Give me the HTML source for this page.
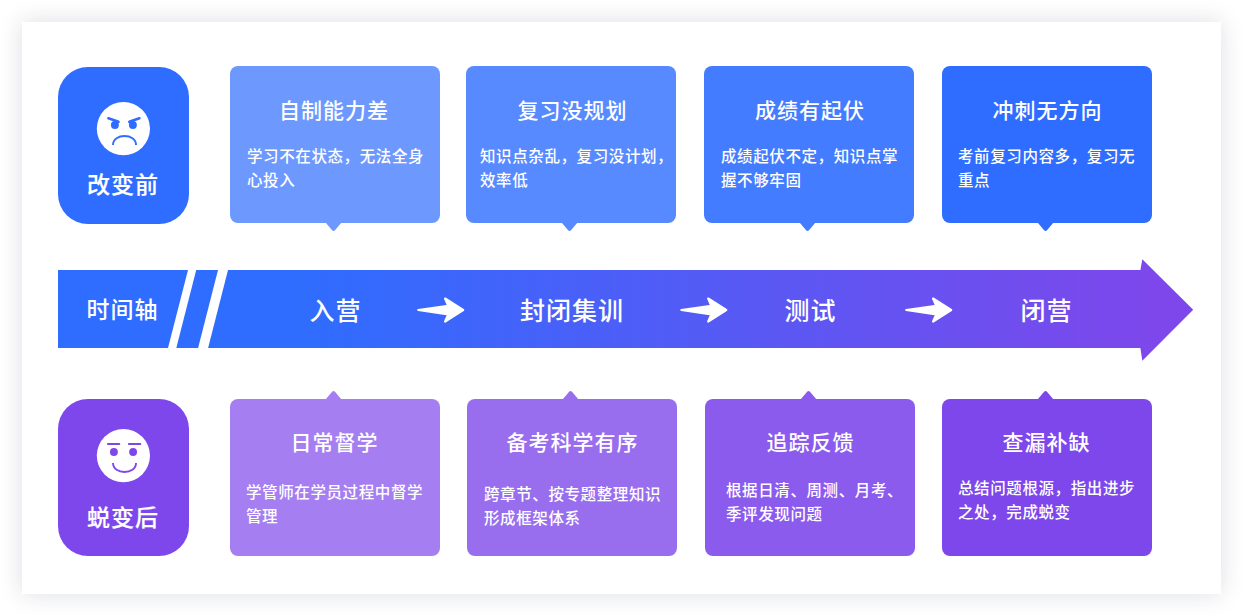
<!DOCTYPE html>
<html lang="zh-CN">
<head>
<meta charset="utf-8">
<title>改变前 / 蜕变后</title>
<style>
*{margin:0;padding:0;box-sizing:border-box}
html,body{width:1243px;height:616px;background:#fff;overflow:hidden}
body{position:relative;font-family:"Liberation Sans","Noto Sans CJK SC",sans-serif;color:#fff;-webkit-font-smoothing:antialiased}
.panel{position:absolute;left:22px;top:22px;width:1199px;height:572px;background:#fff;box-shadow:0 0 23px rgba(25,35,70,.15)}
svg.art{position:absolute;left:0;top:0;width:1243px;height:616px}
.side{position:absolute;left:58px;width:131px;height:157px;border-radius:30px}
.side .lbl{position:absolute;left:-1px;right:1px;-webkit-text-stroke:.2px #fff;text-align:center;font-size:23px;letter-spacing:1px;text-indent:1px;line-height:32px;font-weight:500;white-space:nowrap}
.card{position:absolute;width:210px;height:157px;border-radius:8px}
.card h3{position:absolute;left:0;right:0;text-align:center;font-size:21px;letter-spacing:1px;text-indent:1px;line-height:30px;font-weight:500;white-space:nowrap}
.card p{position:absolute;font-size:15.5px;letter-spacing:.6px;line-height:24px;white-space:nowrap;font-weight:500}
.tl{position:absolute;top:295px;height:32px;line-height:32px;font-size:25px;letter-spacing:1px;text-indent:1px;white-space:nowrap;text-align:center;width:200px;margin-left:-100px;font-weight:500}
</style>
</head>
<body>
<div class="panel"></div>

<div class="side" style="top:67px;background:#2e6dff"><div class="lbl" style="top:102px">改变前</div></div>
<div class="side" style="top:399px;background:#7e47eb"><div class="lbl" style="top:103px">蜕变后</div></div>

<div class="card" style="left:230px;top:66px;background:#6d99ff"><h3 style="top:30px;left:-3px">自制能力差</h3><p style="left:17px;top:79px">学习不在状态，无法全身<br>心投入</p></div>
<div class="card" style="left:466px;top:66px;background:#588aff"><h3 style="top:30px;left:2px">复习没规划</h3><p style="left:14px;top:79px">知识点杂乱，复习没计划，<br>效率低</p></div>
<div class="card" style="left:704px;top:66px;background:#437cff"><h3 style="top:30px;left:1px">成绩有起伏</h3><p style="left:17px;top:79px">成绩起伏不定，知识点掌<br>握不够牢固</p></div>
<div class="card" style="left:942px;top:66px;background:#2e6dff"><h3 style="top:30px">冲刺无方向</h3><p style="left:16px;top:79px">考前复习内容多，复习无<br>重点</p></div>

<div class="card" style="left:230px;top:399px;background:#a57ff1"><h3 style="top:29px;left:-2px">日常督学</h3><p style="left:16px;top:82px">学管师在学员过程中督学<br>管理</p></div>
<div class="card" style="left:467px;top:399px;background:#986eef"><h3 style="top:29px">备考科学有序</h3><p style="left:17px;top:84px">跨章节、按专题整理知识<br>形成框架体系</p></div>
<div class="card" style="left:705px;top:399px;background:#8b5bed"><h3 style="top:29px">追踪反馈</h3><p style="left:21px;top:80px">根据日清、周测、月考、<br>季评发现问题</p></div>
<div class="card" style="left:942px;top:399px;background:#7e47eb"><h3 style="top:29px;left:-2px">查漏补缺</h3><p style="left:16px;top:78px">总结问题根源，指出进步<br>之处，完成蜕变</p></div>

<svg class="art" viewBox="0 0 1243 616">
  <defs>
    <linearGradient id="g" gradientUnits="userSpaceOnUse" x1="290" y1="0" x2="1160" y2="0">
      <stop offset="0" stop-color="#2e6dff"/>
      <stop offset="1" stop-color="#7e47eb"/>
    </linearGradient>
  </defs>
  <!-- pointers -->
  <path fill="#6d99ff" d="M325.55 222.5 L341.55 222.5 L335.00 230.25 Q333.55 231.9 332.10 230.25 Z"/>
  <path fill="#588aff" d="M561.55 222.5 L577.55 222.5 L571.00 230.25 Q569.55 231.9 568.10 230.25 Z"/>
  <path fill="#437cff" d="M799.55 222.5 L815.55 222.5 L809.00 230.25 Q807.55 231.9 806.10 230.25 Z"/>
  <path fill="#2e6dff" d="M1037.55 222.5 L1053.55 222.5 L1047.00 230.25 Q1045.55 231.9 1044.10 230.25 Z"/>
  <path fill="#a57ff1" d="M325.55 399.5 L341.55 399.5 L335.00 391.75 Q333.55 390.1 332.10 391.75 Z"/>
  <path fill="#986eef" d="M562.55 399.5 L578.55 399.5 L572.00 391.75 Q570.55 390.1 569.10 391.75 Z"/>
  <path fill="#8b5bed" d="M800.55 399.5 L816.55 399.5 L810.00 391.75 Q808.55 390.1 807.10 391.75 Z"/>
  <path fill="#7e47eb" d="M1037.55 399.5 L1053.55 399.5 L1047.00 391.75 Q1045.55 390.1 1044.10 391.75 Z"/>
  <!-- timeline band -->
  <path d="M58 270 L1140.4 270 L1142.3 259.2 L1193.2 309.8 L1142.3 360.7 L1140.4 348 L58 348 Z" fill="url(#g)"/>
  <path d="M188 270 L196.2 270 L176.3 348 L168 348 Z" fill="#fff"/>
  <path d="M218 270 L228 270 L208.1 348 L198.1 348 Z" fill="#fff"/>
  <path transform="translate(417.2 310)" d="M1.0 0 L31.0 -4.2 L27.9 -11.5 L46.0 0 L27.9 11.5 L31.0 4.5 Z" fill="#fff" stroke="#fff" stroke-width="2.2" stroke-linejoin="round"/>
  <path transform="translate(680.3 310)" d="M1.0 0 L31.0 -4.2 L27.9 -11.5 L46.0 0 L27.9 11.5 L31.0 4.5 Z" fill="#fff" stroke="#fff" stroke-width="2.2" stroke-linejoin="round"/>
  <path transform="translate(905.2 310)" d="M1.0 0 L31.0 -4.2 L27.9 -11.5 L46.0 0 L27.9 11.5 L31.0 4.5 Z" fill="#fff" stroke="#fff" stroke-width="2.2" stroke-linejoin="round"/>
  <!-- angry face -->
  <g>
    <circle cx="123.4" cy="128.6" r="26.6" fill="#fff"/>
    <g fill="#2e6dff" stroke="none">
      <circle cx="114.9" cy="125" r="3.95"/>
      <circle cx="132.9" cy="125" r="3.95"/>
    </g>
    <g stroke="#fff" stroke-width="3" stroke-linecap="butt">
      <path d="M107.3 115.4 L121.4 120.2"/>
      <path d="M140.5 115.4 L126.4 120.2"/>
    </g>
    <g stroke="#2e6dff" stroke-width="2.6" stroke-linecap="round" fill="none">
      <path d="M108.4 118.3 L118.5 121.8"/>
      <path d="M139.4 118.3 L129.3 121.8"/>
      <path d="M113 144.9 C113 133, 136.05 133, 136.05 144.9" stroke-width="1.9" stroke-linecap="butt"/>
    </g>
  </g>
  <!-- happy face -->
  <g>
    <circle cx="123.4" cy="455.6" r="26.6" fill="#fff"/>
    <g fill="#7e47eb">
      <circle cx="113.9" cy="452" r="3.95"/>
      <circle cx="133.1" cy="452" r="3.95"/>
    </g>
    <g stroke="#7e47eb" stroke-width="1.95" stroke-linecap="round" fill="none">
      <path d="M107.9 444 L119.3 444"/>
      <path d="M128.9 444 L140.3 444"/>
      <path d="M113 463.1 C113 474.9, 136.05 474.9, 136.05 463.1" stroke-width="1.9" stroke-linecap="butt"/>
    </g>
  </g>
</svg>

<div class="tl" style="left:122px;font-size:23px;top:294px">时间轴</div>
<div class="tl" style="left:335px">入营</div>
<div class="tl" style="left:571.5px">封闭集训</div>
<div class="tl" style="left:810px">测试</div>
<div class="tl" style="left:1046px">闭营</div>
</body>
</html>
